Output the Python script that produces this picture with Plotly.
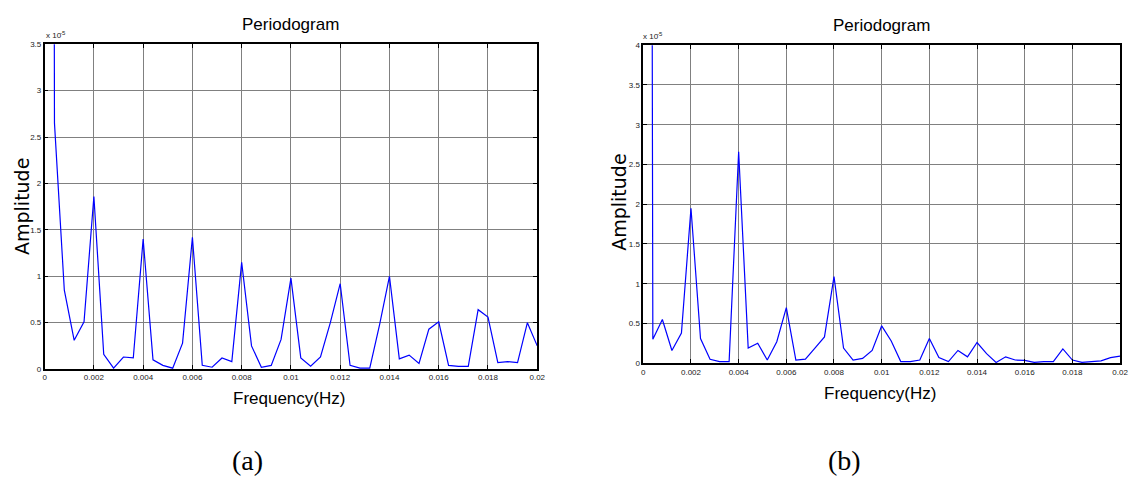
import plotly.graph_objects as go

W, H = 1135, 484

# Frequency bins (Hz)
freq = [0.0, 0.0004, 0.0008, 0.0012, 0.0016, 0.002, 0.0024, 0.0028, 0.0032, 0.0036,
        0.004, 0.0044, 0.0048, 0.0052, 0.0056, 0.006, 0.0064, 0.0068, 0.0072, 0.0076,
        0.008, 0.0084, 0.0088, 0.0092, 0.0096, 0.01, 0.0104, 0.0108, 0.0112, 0.0116,
        0.012, 0.0124, 0.0128, 0.0132, 0.0136, 0.014, 0.0144, 0.0148, 0.0152, 0.0156,
        0.016, 0.0164, 0.0168, 0.0172, 0.0176, 0.018, 0.0184, 0.0188, 0.0192, 0.0196,
        0.02]

# Amplitudes in units of 1e-5 (DC bin far off-scale)
amp_a = [60, 2.65, 0.85, 0.31, 0.51, 1.86, 0.16, 0.01, 0.13, 0.12,
         1.40, 0.10, 0.04, 0.01, 0.28, 1.42, 0.04, 0.02, 0.12, 0.08,
         1.15, 0.25, 0.02, 0.04, 0.32, 0.98, 0.12, 0.03, 0.13, 0.50,
         0.92, 0.04, 0.01, 0.01, 0.48, 1.00, 0.11, 0.15, 0.06, 0.43,
         0.51, 0.04, 0.03, 0.03, 0.64, 0.56, 0.07, 0.08, 0.07, 0.50,
         0.25]

amp_b = [60, 0.30, 0.55, 0.16, 0.38, 1.95, 0.31, 0.05, 0.02, 0.02,
         2.66, 0.19, 0.25, 0.04, 0.27, 0.70, 0.04, 0.05, 0.19, 0.33,
         1.09, 0.19, 0.04, 0.06, 0.16, 0.47, 0.28, 0.02, 0.02, 0.04,
         0.31, 0.07, 0.02, 0.16, 0.08, 0.26, 0.12, 0.01, 0.08, 0.04,
         0.035, 0.01, 0.02, 0.02, 0.18, 0.04, 0.01, 0.02, 0.03, 0.07,
         0.09]

x_tickvals = [0, 0.002, 0.004, 0.006, 0.008, 0.01, 0.012, 0.014, 0.016, 0.018, 0.02]
x_ticktext = ["0", "0.002", "0.004", "0.006", "0.008", "0.01", "0.012", "0.014", "0.016", "0.018", "0.02"]
ya_tickvals = [0, 0.5, 1, 1.5, 2, 2.5, 3, 3.5]
ya_ticktext = ["0", "0.5", "1", "1.5", "2", "2.5", "3", "3.5"]
yb_tickvals = [0, 0.5, 1, 1.5, 2, 2.5, 3, 3.5, 4]
yb_ticktext = ["0", "0.5", "1", "1.5", "2", "2.5", "3", "3.5", "4"]

SANS = "Liberation Sans, Arial, sans-serif"


def px(x):
    return x / W


def py(y):
    return 1 - y / H


fig = go.Figure()
fig.add_trace(go.Scatter(x=freq, y=amp_a, mode="lines", line=dict(color="#0000ff", width=1.2),
                         xaxis="x", yaxis="y", showlegend=False))
fig.add_trace(go.Scatter(x=freq, y=amp_b, mode="lines", line=dict(color="#0000ff", width=1.2),
                         xaxis="x2", yaxis="y2", showlegend=False))

axis_common = dict(showline=True, linecolor="black", linewidth=1.5, mirror="ticks",
                   ticks="inside", ticklen=4, tickcolor="black", tickwidth=1,
                   showgrid=True, gridcolor="#808080", gridwidth=1, zeroline=False,
                   tickfont=dict(family=SANS, size=8, color="#222"))

fig.update_layout(
    width=W, height=H, margin=dict(l=0, r=0, t=0, b=0),
    paper_bgcolor="white", plot_bgcolor="white",
    xaxis=dict(domain=[px(43), px(540)], range=[0, 0.02], anchor="y",
               tickvals=x_tickvals, ticktext=x_ticktext, **axis_common),
    yaxis=dict(domain=[py(372), py(41)], range=[0, 3.5], anchor="x",
               tickvals=ya_tickvals, ticktext=ya_ticktext, **axis_common),
    xaxis2=dict(domain=[px(647), px(1128)], range=[0, 0.02], anchor="y2",
                tickvals=x_tickvals, ticktext=x_ticktext, **axis_common),
    yaxis2=dict(domain=[py(366), py(42)], range=[0, 4], anchor="x2",
                tickvals=yb_tickvals, ticktext=yb_ticktext, **axis_common),
)

ann = []
# Titles
for cx, cy in [(291, 21), (887, 22)]:
    ann.append(dict(x=px(cx), y=py(cy), text="Periodogram", showarrow=False,
                    xanchor="center", yanchor="middle",
                    font=dict(family=SANS, size=17, color="black")))
# x-axis titles
for cx, cy in [(290, 402), (886, 397)]:
    ann.append(dict(x=px(cx), y=py(cy), text="Frequency(Hz)", showarrow=False,
                    xanchor="center", yanchor="middle",
                    font=dict(family=SANS, size=17, color="black")))
# y-axis titles
for cx, cy in [(20, 206), (623, 202)]:
    ann.append(dict(x=px(cx), y=py(cy), text="Amplitude", showarrow=False, textangle=-90,
                    xanchor="center", yanchor="middle",
                    font=dict(family="DejaVu Sans, Liberation Sans, sans-serif", size=19, color="black")))
# exponent labels (base and raised exponent)
for lx, ly in [(42, 39), (645, 40)]:
    ann.append(dict(x=px(lx), y=py(ly), text="x 10", showarrow=False,
                    xanchor="left", yanchor="bottom",
                    font=dict(family=SANS, size=8, color="#222")))
    ann.append(dict(x=px(lx + 14), y=py(ly - 4), text="-5", showarrow=False,
                    xanchor="left", yanchor="bottom",
                    font=dict(family=SANS, size=6, color="#222")))
# sub-figure labels
for cx, cy, t in [(248, 465, "(a)"), (850, 465, "(b)")]:
    ann.append(dict(x=px(cx), y=py(cy), text=t, showarrow=False,
                    xanchor="center", yanchor="middle",
                    font=dict(family="Liberation Serif, Times New Roman, serif", size=28, color="black")))

fig.update_layout(annotations=[dict(a, xref="paper", yref="paper") for a in ann])

fig.write_html("out.html")
